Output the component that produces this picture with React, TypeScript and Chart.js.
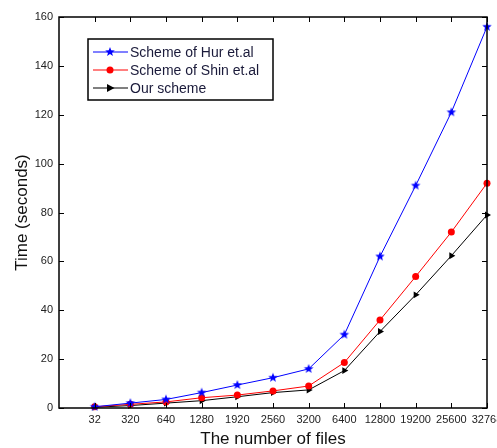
import React, { useEffect, useRef } from 'react';
import { Chart, registerables } from 'chart.js';

Chart.register(...registerables);

const fileCounts = ['32', '320', '640', '1280', '1920', '2560', '3200', '6400', '12800', '19200', '25600', '32768'];
const hurTimes = [0.5, 2, 3.5, 6.3, 9.4, 12.4, 16, 30, 62, 91, 121, 156];
const shinTimes = [0.5, 1.5, 2.5, 4.2, 5.3, 7, 9, 18.6, 36, 53.8, 72, 92];
const ourTimes = [0.3, 1, 2, 3, 4.6, 6.3, 7.4, 15.3, 31.3, 46.3, 62.3, 79];
const seriesNames = ['Scheme of Hur et.al', 'Scheme of Shin et.al', 'Our scheme'];
const seriesColors = ['#0000ff', '#ff0000', '#000000'];
const yMin = 0;
const yMax = 160;
const yStep = 20;

const FONT = '"Liberation Sans", Arial, Helvetica, sans-serif';

function makeStar(color: string, r: number): HTMLCanvasElement {
  const size = Math.ceil(r * 2 + 2);
  const c = document.createElement('canvas');
  c.width = size;
  c.height = size;
  const g = c.getContext('2d')!;
  const cx = size / 2;
  const cy = size / 2;
  g.beginPath();
  for (let i = 0; i < 10; i++) {
    const rr = i % 2 === 0 ? r : r * 0.42;
    const ang = -Math.PI / 2 + (i * Math.PI) / 5;
    const px = cx + rr * Math.cos(ang);
    const py = cy + rr * Math.sin(ang);
    if (i === 0) g.moveTo(px, py);
    else g.lineTo(px, py);
  }
  g.closePath();
  g.fillStyle = color;
  g.fill();
  return c;
}

function toPoints(vals: number[]) {
  return vals.map((v, i) => ({ x: i + 1, y: v }));
}

export default function App() {
  const ref = useRef<HTMLCanvasElement | null>(null);

  useEffect(() => {
    if (!ref.current) return;
    const star = makeStar(seriesColors[0], 5);

    const drawMarker = (ctx: CanvasRenderingContext2D, idx: number, x: number, y: number) => {
      ctx.save();
      ctx.fillStyle = seriesColors[idx];
      if (idx === 0) {
        ctx.drawImage(star, x - star.width / 2, y - star.height / 2);
      } else if (idx === 1) {
        ctx.beginPath();
        ctx.arc(x, y, 3.5, 0, Math.PI * 2);
        ctx.fill();
      } else {
        ctx.beginPath();
        ctx.moveTo(x + 4.5, y);
        ctx.lineTo(x - 3, y - 4);
        ctx.lineTo(x - 3, y + 4);
        ctx.closePath();
        ctx.fill();
      }
      ctx.restore();
    };

    const framePlugin = {
      id: 'frameAndLegend',
      afterDraw(chart: any) {
        const { ctx, chartArea: a, scales } = chart;
        const xs = scales.x;
        const ys = scales.y;
        ctx.save();
        ctx.strokeStyle = '#000';
        ctx.lineWidth = 1.5;
        ctx.strokeRect(a.left, a.top, a.right - a.left, a.bottom - a.top);
        const len = 5;
        ctx.lineWidth = 1;
        ctx.beginPath();
        xs.ticks.forEach((t: any) => {
          if (t.value <= 0) return;
          const px = Math.round(xs.getPixelForValue(t.value)) + 0.5;
          ctx.moveTo(px, a.bottom);
          ctx.lineTo(px, a.bottom - len);
          ctx.moveTo(px, a.top);
          ctx.lineTo(px, a.top + len);
        });
        ys.ticks.forEach((t: any) => {
          const py = Math.round(ys.getPixelForValue(t.value)) + 0.5;
          ctx.moveTo(a.left, py);
          ctx.lineTo(a.left + len, py);
          ctx.moveTo(a.right, py);
          ctx.lineTo(a.right - len, py);
        });
        ctx.stroke();

        // legend box
        const bx = a.left + 29;
        const by = a.top + 22;
        const bw = 185;
        const bh = 61;
        ctx.fillStyle = '#fff';
        ctx.fillRect(bx, by, bw, bh);
        ctx.lineWidth = 1.5;
        ctx.strokeStyle = '#000';
        ctx.strokeRect(bx, by, bw, bh);
        ctx.font = `14px ${FONT}`;
        ctx.textBaseline = 'middle';
        ctx.textAlign = 'left';
        seriesNames.forEach((name, i) => {
          const ly = by + 13 + i * 18;
          ctx.strokeStyle = seriesColors[i];
          ctx.lineWidth = 1;
          ctx.beginPath();
          ctx.moveTo(bx + 5, ly);
          ctx.lineTo(bx + 40, ly);
          ctx.stroke();
          drawMarker(ctx, i, bx + 22, ly);
          ctx.fillStyle = '#1a1a3a';
          ctx.fillText(name, bx + 42, ly + 1);
        });
        ctx.restore();
      },
    };

    const chart = new Chart(ref.current, {
      type: 'line',
      data: {
        datasets: [
          {
            label: seriesNames[0],
            data: toPoints(hurTimes),
            borderColor: seriesColors[0],
            backgroundColor: seriesColors[0],
            borderWidth: 1,
            pointStyle: star,
            pointRadius: 5,
            clip: false,
          },
          {
            label: seriesNames[1],
            data: toPoints(shinTimes),
            borderColor: seriesColors[1],
            backgroundColor: seriesColors[1],
            borderWidth: 1,
            pointStyle: 'circle',
            pointRadius: 3.5,
            pointBorderWidth: 0,
            clip: false,
          },
          {
            label: seriesNames[2],
            data: toPoints(ourTimes),
            borderColor: seriesColors[2],
            backgroundColor: seriesColors[2],
            borderWidth: 1,
            pointStyle: 'triangle',
            pointRotation: 90,
            pointRadius: 4,
            pointBorderWidth: 0,
            clip: false,
          },
        ],
      },
      options: {
        responsive: false,
        animation: false,
        events: [],
        layout: { padding: { top: 17, right: 10, left: 0, bottom: 0 } },
        plugins: {
          legend: { display: false },
          tooltip: { enabled: false },
        },
        scales: {
          x: {
            type: 'linear',
            min: 0,
            max: fileCounts.length,
            grid: { display: false, drawTicks: false },
            border: { display: false },
            ticks: {
              stepSize: 1,
              autoSkip: false,
              maxRotation: 0,
              padding: 5,
              color: '#222',
              font: { family: FONT, size: 11 },
              callback: (v: any) => {
                const i = Number(v);
                return i >= 1 && i <= fileCounts.length ? fileCounts[i - 1] : '';
              },
            },
            title: {
              display: true,
              text: 'The number of files',
              color: '#111',
              font: { family: FONT, size: 17 },
              padding: { top: 0, bottom: -2 },
            },
            afterFit: (s: any) => {
              s.height = 40;
              s.paddingLeft = 0;
              s.paddingRight = 0;
            },
          },
          y: {
            type: 'linear',
            min: yMin,
            max: yMax,
            grid: { display: false, drawTicks: false },
            border: { display: false },
            ticks: {
              stepSize: yStep,
              padding: 6,
              color: '#222',
              font: { family: FONT, size: 11 },
            },
            title: {
              display: true,
              text: 'Time (seconds)',
              color: '#111',
              font: { family: FONT, size: 17 },
              padding: { top: 12, bottom: 0 },
            },
            afterFit: (s: any) => {
              s.width = 59;
              s.paddingTop = 0;
              s.paddingBottom = 0;
            },
          },
        },
      },
      plugins: [framePlugin],
    });
    return () => chart.destroy();
  }, []);

  return (
    <div style={{ position: 'fixed', left: 0, top: 0, width: 497, height: 448, background: '#fff' }}>
      <canvas ref={ref} width={497} height={448} style={{ display: 'block', width: 497, height: 448 }} />
    </div>
  );
}
